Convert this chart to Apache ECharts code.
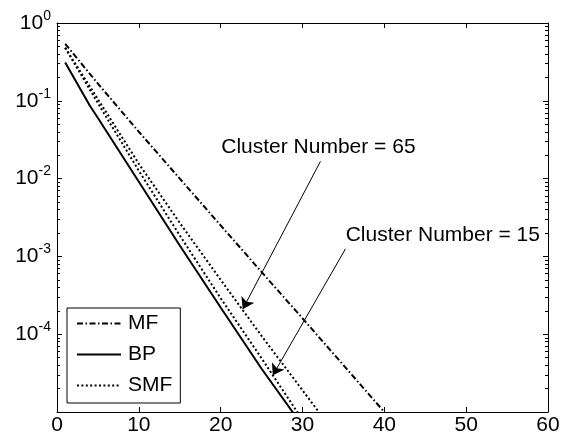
<!DOCTYPE html>
<html>
<head>
<meta charset="utf-8">
<script src="https://cdn.jsdelivr.net/npm/echarts@6/dist/echarts.min.js"></script>
<style>
  html, body { margin: 0; padding: 0; background: #fff; }
  #chart { width: 581px; height: 443px; }
</style>
</head>
<body>
<div id="chart"></div>
<script>
// MF (dash-dot)
const mfX = [1, 5, 10, 15, 20, 25, 30, 35, 40];
const mfY = [0.54, 0.166, 0.040, 0.010, 2.5e-3, 6.3e-4, 1.6e-4, 4.0e-5, 1.0e-5];
// BP (solid)
const bpX = [1, 4, 5, 10, 15, 20, 25, 29];
const bpY = [0.31, 0.087, 0.060, 9.1e-3, 1.38e-3, 2.2e-4, 3.6e-5, 9.3e-6];
// SMF, cluster number 65 (outer dotted)
const smf65X = [1, 5, 10, 15, 20, 25, 30, 32];
const smf65Y = [0.48, 0.105, 0.0155, 2.7e-3, 5.0e-4, 9.5e-5, 1.9e-5, 1.0e-5];
// SMF, cluster number 15 (inner dotted)
const smf15X = [1, 5, 10, 15, 20, 25, 29.5];
const smf15Y = [0.48, 0.093, 0.0126, 1.86e-3, 2.9e-4, 4.9e-5, 9.5e-6];

const yMajor = [1e-5, 1e-4, 1e-3, 1e-2, 1e-1, 1];

// annotation anchors, in data units
const notes = [
  { text: 'Cluster Number = 65', at: [20.07, 0.0251], from: [32.2, 0.0167], to: [22.7, 2.1e-4] },
  { text: 'Cluster Number = 15', at: [35.27, 1.88e-3], from: [35.25, 1.25e-3], to: [26.37, 2.96e-5] }
];

const yMinor = [];
for (let e = -5; e < 0; e++) {
  for (let k = 2; k <= 9; k++) yMinor.push(+(k * Math.pow(10, e)).toPrecision(3));
}

const zip = (xs, ys) => xs.map((x, i) => [x, ys[i]]);

const FONT = 'Liberation Sans, Arial, sans-serif';
const LW = 2;

const chart = echarts.init(document.getElementById('chart'));

function yAxisDef(pos, labels, ticks, len, line) {
  return {
    type: 'log', logBase: 10, min: 1e-5, max: 1, position: pos,
    axisLine: { show: line, lineStyle: { color: '#000', width: 1 } },
    splitLine: { show: false },
    axisTick: { show: true, inside: true, length: len, customValues: ticks, lineStyle: { color: '#000', width: 1 } },
    axisLabel: labels ? {
      show: true, margin: 6, fontFamily: FONT, color: '#000',
      customValues: yMajor,
      formatter: v => {
        const e = Math.round(Math.log10(v));
        if (e < -4) return '';
        return '{b|10}{s|' + e + '}';
      },
      rich: {
        b: { fontSize: 21, lineHeight: 21, fontFamily: FONT, color: '#000' },
        s: { fontSize: 14, lineHeight: 14, padding: [0, 0, 14, 0], fontFamily: FONT, color: '#000' }
      }
    } : { show: false }
  };
}

function xAxisDef(pos, labels) {
  return {
    type: 'value', min: 0, max: 60, interval: 10, position: pos,
    axisLine: { show: true, onZero: false, lineStyle: { color: '#000', width: 1 } },
    splitLine: { show: false },
    axisTick: { show: true, inside: true, length: 5, lineStyle: { color: '#000' } },
    axisLabel: labels ? { show: true, margin: 3, fontSize: 21, fontFamily: FONT, color: '#000' } : { show: false }
  };
}

const lineSeries = (name, data, type) => ({
  name, type: 'line', data, xAxisIndex: 0, yAxisIndex: 0,
  symbol: 'none', smooth: false, silent: true,
  lineStyle: { color: '#000', width: LW, type, cap: 'butt' },
  itemStyle: { color: '#000' }
});

const smf15 = lineSeries('SMF', zip(smf15X, smf15Y), [2, 2.4]);
smf15.markLine = {
  silent: true, symbol: ['none', 'arrow'], symbolSize: 11,
  lineStyle: { color: '#000', width: 1, type: 'solid' },
  itemStyle: { color: '#000' },
  label: { show: false },
  data: notes.map(n => [{ coord: n.from }, { coord: n.to }])
};
smf15.markPoint = {
  silent: true, symbol: 'circle', symbolSize: 0,
  data: notes.map(n => ({
    coord: n.at,
    label: { show: true, position: 'right', distance: 0, formatter: n.text, fontSize: 21, fontFamily: FONT, color: '#000' }
  }))
};

chart.setOption({
  backgroundColor: '#fff',
  animation: false,
  grid: { left: 57, top: 23, right: 33, bottom: 31 },
  xAxis: [xAxisDef('bottom', true), xAxisDef('top', false)],
  yAxis: [
    yAxisDef('left', true, yMajor, 5, true),
    yAxisDef('left', false, yMinor, 3, false),
    yAxisDef('right', false, yMajor, 5, true),
    yAxisDef('right', false, yMinor, 3, false)
  ],
  legend: {
    orient: 'vertical', left: 67, top: 308,
    data: ['MF', 'BP', 'SMF'],
    itemWidth: 44, itemHeight: 2, itemGap: 10,
    padding: [5, 8, 7, 9],
    itemStyle: { opacity: 0 },
    borderColor: '#000', borderWidth: 1, borderRadius: 0, backgroundColor: '#fff',
    textStyle: { fontSize: 21, lineHeight: 21, fontFamily: FONT, color: '#000', padding: [0, 0, 0, 2] }
  },
  series: [
    lineSeries('MF', zip(mfX, mfY), [6, 2.5, 1.5, 2.5]),
    lineSeries('BP', zip(bpX, bpY), 'solid'),
    lineSeries('SMF', zip(smf65X, smf65Y), [2, 2.4]),
    smf15
  ]
});
</script>
</body>
</html>
